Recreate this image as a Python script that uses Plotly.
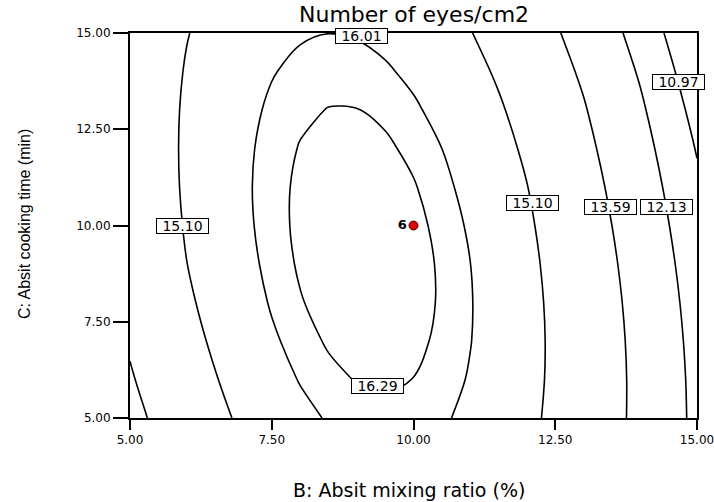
import plotly.graph_objects as go

# Factor grid (B: mixing ratio %, C: cooking time min)
mix_ratio = [5, 6, 7, 7.5, 8, 8.5, 9, 9.5, 10, 10.5, 11, 11.5, 12, 13, 14, 15]
cook_time = [5, 6, 7, 8, 9, 10, 11, 12, 13, 14, 15]

# Predicted number of eyes/cm2, one row per cooking time
eyes = [
    [13.231, 14.399, 15.278, 15.609, 15.867, 16.052, 16.165, 16.206, 16.174, 16.070, 15.893, 15.643, 15.321, 14.460, 13.309, 11.868],
    [13.486, 14.626, 15.476, 15.792, 16.036, 16.207, 16.306, 16.332, 16.286, 16.168, 15.976, 15.713, 15.376, 14.487, 13.307, 11.837],
    [13.705, 14.816, 15.638, 15.940, 16.169, 16.326, 16.411, 16.423, 16.363, 16.230, 16.024, 15.746, 15.396, 14.477, 13.269, 11.770],
    [13.889, 14.972, 15.765, 16.052, 16.268, 16.410, 16.481, 16.478, 16.404, 16.256, 16.037, 15.744, 15.380, 14.433, 13.196, 11.669],
    [14.037, 15.092, 15.856, 16.129, 16.330, 16.459, 16.515, 16.498, 16.409, 16.248, 16.014, 15.707, 15.328, 14.353, 13.087, 11.532],
    [14.150, 15.176, 15.912, 16.171, 16.358, 16.472, 16.514, 16.483, 16.380, 16.204, 15.956, 15.635, 15.241, 14.237, 12.943, 11.359],
    [14.228, 15.226, 15.933, 16.178, 16.350, 16.450, 16.477, 16.432, 16.315, 16.125, 15.862, 15.527, 15.119, 14.087, 12.764, 11.151],
    [14.270, 15.239, 15.918, 16.148, 16.307, 16.392, 16.405, 16.346, 16.214, 16.010, 15.733, 15.383, 14.962, 13.900, 12.549, 10.908],
    [14.278, 15.218, 15.868, 16.084, 16.228, 16.300, 16.298, 16.225, 16.079, 15.860, 15.569, 15.205, 14.769, 13.679, 12.299, 10.629],
    [14.249, 15.161, 15.782, 15.984, 16.114, 16.171, 16.156, 16.068, 15.907, 15.674, 15.369, 14.991, 14.540, 13.422, 12.014, 10.315],
    [14.185, 15.068, 15.661, 15.849, 15.964, 16.007, 15.977, 15.875, 15.700, 15.453, 15.133, 14.741, 14.276, 13.129, 11.692, 9.965],
]

contour_levels = [10.97, 12.13, 13.59, 15.10, 16.01, 16.29]

# Design centre point and its replicate count
centre_x = [10.0]
centre_y = [10.0]
centre_runs = ["6"]

tick_vals = [5, 7.5, 10, 12.5, 15]
tick_text = ["5.00", "7.50", "10.00", "12.50", "15.00"]

FONT = "DejaVu Sans, Liberation Sans, Arial, sans-serif"
NARROW = "Liberation Sans, Arial, sans-serif"

fig = go.Figure()

for lvl in contour_levels:
    fig.add_trace(go.Contour(
        x=mix_ratio, y=cook_time, z=eyes,
        autocontour=False,
        contours=dict(start=lvl, end=lvl, size=1, coloring="none", showlabels=False),
        line=dict(color="black", width=1.6, smoothing=1.0),
        showscale=False, hoverinfo="skip",
    ))

fig.add_trace(go.Scatter(
    x=centre_x, y=centre_y, mode="markers+text",
    text=centre_runs, textposition="middle left",
    textfont=dict(family=FONT, size=13, color="black", weight="bold"),
    marker=dict(color="#e00000", size=9, line=dict(color="#500000", width=1)),
    hoverinfo="skip", showlegend=False,
))

# Where each contour value is printed on its line
label_spots = [
    (16.01, 9.09, 14.93),
    (15.10, 5.93, 10.00),
    (15.10, 12.09, 10.58),
    (13.59, 13.47, 10.48),
    (12.13, 14.47, 10.48),
    (10.97, 14.67, 13.73),
    (16.29, 9.37, 5.82),
]

annotations = []
for lvl, lx, ly in label_spots:
    annotations.append(dict(
        x=lx, y=ly, xref="x", yref="y", text=f"{lvl:.2f}", showarrow=False,
        font=dict(family=FONT, size=14, color="black"),
        bgcolor="white", bordercolor="black", borderwidth=1, borderpad=0,
        width=51, height=14,
    ))

annotations += [
    dict(x=0.5, y=1.0468, xref="paper", yref="paper", text="Number of eyes/cm2",
         showarrow=False, xanchor="center", yanchor="middle",
         font=dict(family=FONT, size=22, color="black")),
    dict(x=0.492, y=-0.187, xref="paper", yref="paper", text="B: Absit mixing ratio (%)",
         showarrow=False, xanchor="center", yanchor="middle",
         font=dict(family=FONT, size=19, color="black")),
    dict(x=-0.186, y=0.5026, xref="paper", yref="paper", text="C: Absit cooking time (min)",
         showarrow=False, xanchor="center", yanchor="middle", textangle=-90,
         font=dict(family=NARROW, size=16, color="black")),
]

axis_common = dict(
    tickmode="array", tickvals=tick_vals, ticktext=tick_text,
    ticks="outside", tickwidth=2, tickcolor="black",
    showline=True, linecolor="black", linewidth=2, mirror=True,
    showgrid=False, zeroline=False, automargin=False,
    ticklabeloverflow="allow",
    tickfont=dict(family=FONT, size=12, color="black"),
)

fig.update_layout(
    width=714, height=502,
    margin=dict(l=130, r=17, t=33, b=84),
    paper_bgcolor="white", plot_bgcolor="white",
    showlegend=False,
    xaxis=dict(range=[5, 15], ticklen=10, **axis_common),
    yaxis=dict(range=[5, 15], ticklen=15, **axis_common),
    annotations=annotations,
)

fig.write_html("out.html")
